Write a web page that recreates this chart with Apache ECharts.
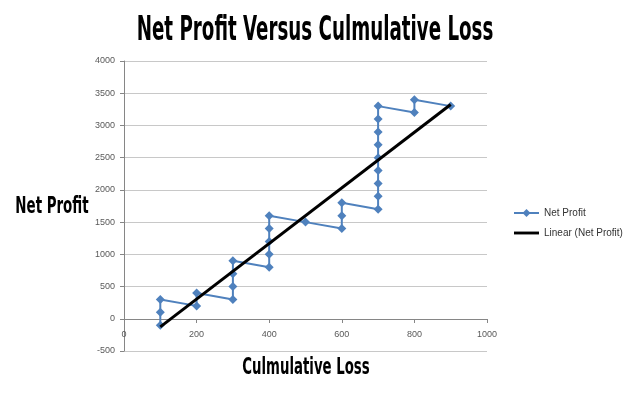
<!DOCTYPE html>
<html>
<head>
<meta charset="utf-8">
<script src="https://cdn.jsdelivr.net/npm/echarts@6/dist/echarts.min.js"></script>
<style>html,body{margin:0;padding:0;background:#fff}#c{width:630px;height:396px}</style>
</head>
<body>
<div id="c"></div>
<script>
const lossValues = [100,100,100,200,200,300,300,300,300,400,400,400,400,400,500,600,600,600,700,700,700,700,700,700,700,700,700,800,800,900];
const profitValues = [-100,100,300,200,400,300,500,700,900,800,1000,1200,1400,1600,1500,1400,1600,1800,1700,1900,2100,2300,2500,2700,2900,3100,3300,3200,3400,3300];
const xTicks = {min:0, max:1000, interval:200};
const yTicks = {min:-500, max:4000, interval:500};

// linear trend line (least squares) over the series
const n = lossValues.length;
const mx = lossValues.reduce((a,b)=>a+b,0)/n;
const my = profitValues.reduce((a,b)=>a+b,0)/n;
let sxy=0, sxx=0;
for (let i=0;i<n;i++){ sxy += (lossValues[i]-mx)*(profitValues[i]-my); sxx += (lossValues[i]-mx)**2; }
const slope = sxy/sxx, icpt = my - slope*mx;
const xMinD = Math.min(...lossValues), xMaxD = Math.max(...lossValues);
const trend = [[xMinD, icpt+slope*xMinD],[xMaxD, icpt+slope*xMaxD]];

const condensed = "'Liberation Sans Narrow', 'DejaVu Sans Condensed', 'DejaVu Sans'";
const chart = echarts.init(document.getElementById('c'));
const labelFont = {fontFamily:'Liberation Sans', fontSize:9, color:'#595959', formatter:(v)=>String(v)};
chart.setOption({
  animation:false,
  grid:{left:124, right:143, top:61, bottom:45},
  legend:{orient:'vertical', left:513, top:208, padding:0, itemGap:10, itemWidth:25, itemHeight:10,
    textStyle:{fontFamily:'Liberation Sans', fontSize:10, color:'#333'},
    data:['Net Profit',{name:'Linear (Net Profit)', icon:'path://M0,0 L26,0 L26,3 L0,3 Z'}]},
  xAxis:{type:'value', min:xTicks.min, max:xTicks.max, interval:xTicks.interval,
    offset:-32,
    axisLine:{show:true, onZero:false, lineStyle:{color:'#868686'}},
    axisTick:{show:true, length:4, lineStyle:{color:'#868686'}},
    axisLabel:{...labelFont, margin:11},
    splitLine:{show:false}},
  yAxis:{type:'value', min:yTicks.min, max:yTicks.max, interval:yTicks.interval,
    axisLine:{show:true, lineStyle:{color:'#868686'}},
    axisTick:{show:true, length:4, lineStyle:{color:'#868686'}},
    axisLabel:{...labelFont, margin:9},
    splitLine:{show:true, lineStyle:{color:'#c8c8c8'}}},
  graphic:[
    {type:'text', x:315, y:31, scaleX:0.615, style:{text:'Net Profit Versus Culmulative Loss', align:'center', verticalAlign:'middle', font:"bold 33px " + condensed, fill:'#000'}},
    {type:'text', x:52, y:207, scaleX:0.647, style:{text:'Net Profit', align:'center', verticalAlign:'middle', font:"bold 23px " + condensed, fill:'#000'}},
    {type:'text', x:306, y:368, scaleX:0.643, style:{text:'Culmulative Loss', align:'center', verticalAlign:'middle', font:"bold 23px " + condensed, fill:'#000'}}
  ],
  series:[
    {name:'Net Profit', type:'line', data:lossValues.map((x,i)=>[x,profitValues[i]]),
     smooth:0.5, symbol:'diamond', symbolSize:9, showAllSymbol:true,
     lineStyle:{color:'#4F81BD', width:2}, itemStyle:{color:'#4F81BD'}, z:2},
    {name:'Linear (Net Profit)', type:'line', data:trend, symbol:'none',
     lineStyle:{color:'#000', width:3}, itemStyle:{color:'#000'}, z:3}
  ]
});
</script>
</body>
</html>
